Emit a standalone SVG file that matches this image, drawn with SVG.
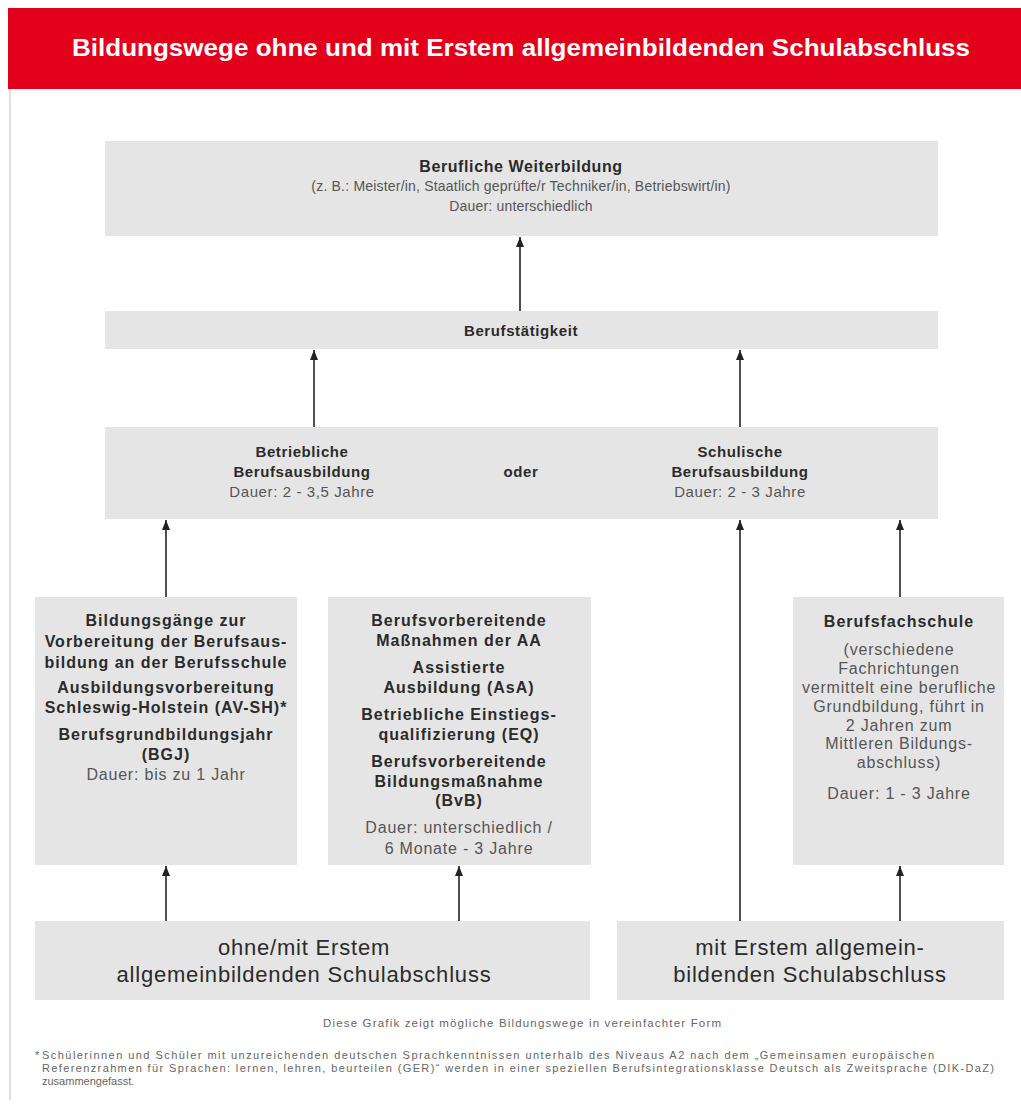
<svg xmlns="http://www.w3.org/2000/svg" width="1021" height="1106" viewBox="0 0 1021 1106">
<defs>
<style>
text{font-family:"Liberation Sans",Arial,sans-serif;text-anchor:middle}
.box{fill:#e5e5e5}
.h{font-weight:bold;fill:#2b2b2b}
.n{fill:#555}
.top{font-size:16px;letter-spacing:0.6px}
.topn{font-size:14px;letter-spacing:0.2px}
.mid{font-size:15px;letter-spacing:0.6px}
.low{font-size:16px;letter-spacing:1px}
.lown{font-size:16px;letter-spacing:0.8px}
.big{font-size:22px;letter-spacing:0.8px;fill:#2b2b2b}
.foot{font-size:11px;fill:#666;text-anchor:start}
.conn line{stroke:#222;stroke-width:1.6}
</style>
<marker id="ah" markerUnits="userSpaceOnUse" markerWidth="10" markerHeight="8" refX="10" refY="4" orient="auto">
<path d="M0,0 L10,4 L0,8 z" fill="#222"/>
</marker>
</defs>
<rect width="1021" height="1106" fill="#ffffff"/>
<line x1="10" y1="89" x2="10" y2="1100" stroke="#d6d6d6" stroke-width="1.5"/>
<g id="title">
<rect x="8" y="8" width="1013" height="81" fill="#e2001a"/>
<text x="521" y="56" font-size="24" font-weight="bold" fill="#ffffff" textLength="898" lengthAdjust="spacingAndGlyphs">Bildungswege ohne und mit Erstem allgemeinbildenden Schulabschluss</text>
</g>
<g id="weiterbildung">
<rect class="box" x="105" y="141" width="833" height="95"/>
<text class="h top" x="521" y="172">Berufliche Weiterbildung</text>
<text class="n topn" x="521" y="191">(z. B.: Meister/in, Staatlich geprüfte/r Techniker/in, Betriebswirt/in)</text>
<text class="n topn" x="521" y="211">Dauer: unterschiedlich</text>
</g>
<g id="berufstaetigkeit">
<rect class="box" x="105" y="311" width="833" height="38"/>
<text class="h mid" x="521" y="336">Berufstätigkeit</text>
</g>
<g id="berufsausbildung">
<rect class="box" x="105" y="427" width="833" height="92"/>
<text class="h mid" x="302" y="457">Betriebliche</text>
<text class="h mid" x="302" y="477">Berufsausbildung</text>
<text class="n mid" x="302" y="497">Dauer: 2 - 3,5 Jahre</text>
<text class="h mid" x="521" y="477">oder</text>
<text class="h mid" x="740" y="457">Schulische</text>
<text class="h mid" x="740" y="477">Berufsausbildung</text>
<text class="n mid" x="740" y="497">Dauer: 2 - 3 Jahre</text>
</g>
<g id="bildungsgaenge">
<rect class="box" x="35" y="597" width="262" height="268"/>
<text class="h low" x="166" y="626">Bildungsgänge zur</text>
<text class="h low" x="166" y="647">Vorbereitung der Berufsaus-</text>
<text class="h low" x="166" y="668">bildung an der Berufsschule</text>
<text class="h low" x="166" y="693">Ausbildungsvorbereitung</text>
<text class="h low" x="166" y="713">Schleswig-Holstein (AV-SH)*</text>
<text class="h low" x="166" y="740">Berufsgrundbildungsjahr</text>
<text class="h low" x="166" y="760">(BGJ)</text>
<text class="n lown" x="166" y="780">Dauer: bis zu 1 Jahr</text>
</g>
<g id="massnahmen">
<rect class="box" x="328" y="597" width="263" height="268"/>
<text class="h low" x="459" y="626">Berufsvorbereitende</text>
<text class="h low" x="459" y="646">Maßnahmen der AA</text>
<text class="h low" x="459" y="673">Assistierte</text>
<text class="h low" x="459" y="693">Ausbildung (AsA)</text>
<text class="h low" x="459" y="720">Betriebliche Einstiegs-</text>
<text class="h low" x="459" y="740">qualifizierung (EQ)</text>
<text class="h low" x="459" y="767">Berufsvorbereitende</text>
<text class="h low" x="459" y="787">Bildungsmaßnahme</text>
<text class="h low" x="459" y="806">(BvB)</text>
<text class="n lown" x="459" y="833">Dauer: unterschiedlich /</text>
<text class="n lown" x="459" y="854">6 Monate - 3 Jahre</text>
</g>
<g id="berufsfachschule">
<rect class="box" x="793" y="597" width="211" height="268"/>
<text class="h low" x="899" y="627">Berufsfachschule</text>
<text class="n lown" x="899" y="655">(verschiedene</text>
<text class="n lown" x="899" y="674">Fachrichtungen</text>
<text class="n lown" x="899" y="693">vermittelt eine berufliche</text>
<text class="n lown" x="899" y="712">Grundbildung, führt in</text>
<text class="n lown" x="899" y="731">2 Jahren zum</text>
<text class="n lown" x="899" y="749">Mittleren Bildungs-</text>
<text class="n lown" x="899" y="768">abschluss)</text>
<text class="n lown" x="899" y="799">Dauer: 1 - 3 Jahre</text>
</g>
<g id="ohne-mit">
<rect class="box" x="35" y="921" width="555" height="79"/>
<text class="big" x="304" y="955">ohne/mit Erstem</text>
<text class="big" x="304" y="982">allgemeinbildenden Schulabschluss</text>
</g>
<g id="mit">
<rect class="box" x="617" y="921" width="387" height="79"/>
<text class="big" x="810" y="955">mit Erstem allgemein-</text>
<text class="big" x="810" y="982">bildenden Schulabschluss</text>
</g>
<g id="connectors" class="conn">
<line x1="520" y1="311" x2="520" y2="237" marker-end="url(#ah)"/>
<line x1="314" y1="427" x2="314" y2="350" marker-end="url(#ah)"/>
<line x1="740" y1="427" x2="740" y2="350" marker-end="url(#ah)"/>
<line x1="166" y1="597" x2="166" y2="520" marker-end="url(#ah)"/>
<line x1="900" y1="597" x2="900" y2="520" marker-end="url(#ah)"/>
<line x1="740" y1="921" x2="740" y2="520" marker-end="url(#ah)"/>
<line x1="166" y1="921" x2="166" y2="866" marker-end="url(#ah)"/>
<line x1="459" y1="921" x2="459" y2="866" marker-end="url(#ah)"/>
<line x1="900" y1="921" x2="900" y2="866" marker-end="url(#ah)"/>
</g>
<g id="notes">
<text x="522" y="1027" font-size="11.5" fill="#666" textLength="398" lengthAdjust="spacing">Diese Grafik zeigt mögliche Bildungswege in vereinfachter Form</text>
<text class="foot" x="35" y="1059">*</text>
<text class="foot" x="42" y="1059" textLength="892" lengthAdjust="spacing">Schülerinnen und Schüler mit unzureichenden deutschen Sprachkenntnissen unterhalb des Niveaus A2 nach dem „Gemeinsamen europäischen</text>
<text class="foot" x="42" y="1072" textLength="952" lengthAdjust="spacing">Referenzrahmen für Sprachen: lernen, lehren, beurteilen (GER)“ werden in einer speziellen Berufsintegrationsklasse Deutsch als Zweitsprache (DIK-DaZ)</text>
<text class="foot" x="42" y="1085">zusammengefasst.</text>
</g>
</svg>
